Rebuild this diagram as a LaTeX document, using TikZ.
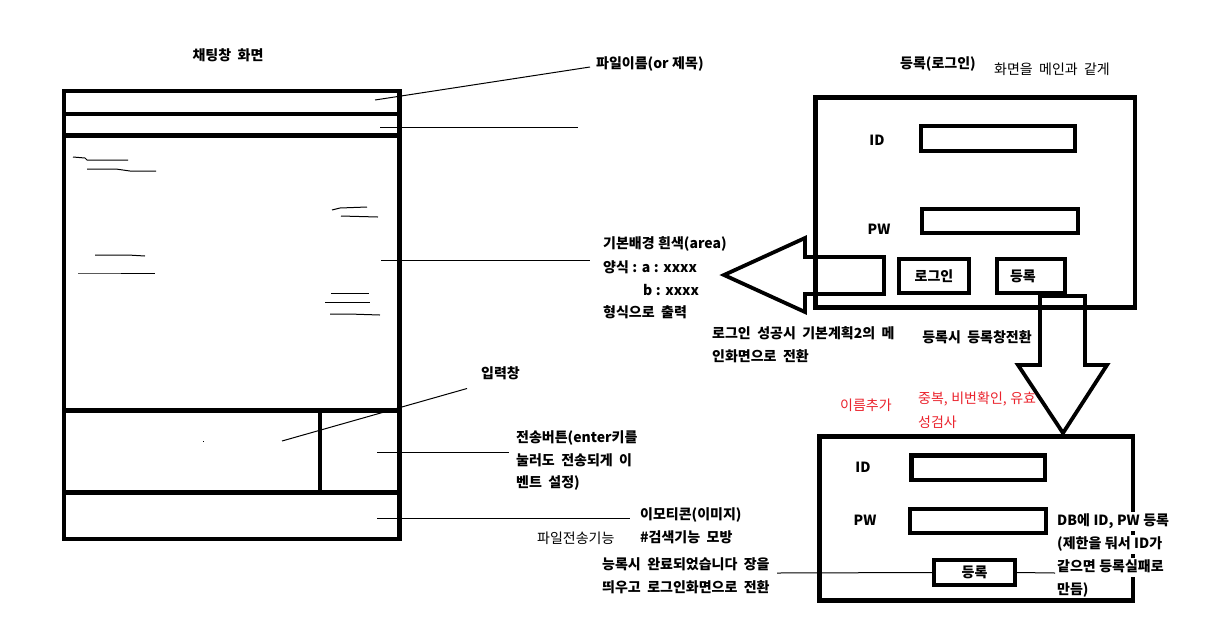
\documentclass[tikz,border=0pt]{standalone}
\usepackage{fontspec}
\setmainfont{Noto Sans CJK KR}[WordSpace=2]
\newcommand\latsp{\spaceskip=0.25em\relax}
\begin{document}
\begin{tikzpicture}[x=1pt,y=-1pt,
  frame/.style={line width=4.5pt},
  fld/.style={draw,line width=4.3pt,inner sep=0pt,font=\fontsize{14}{16}\selectfont\bfseries},
  lbl/.style={inner sep=0pt,anchor=base west,font=\fontsize{14}{16}\selectfont\bfseries},
  lblc/.style={inner sep=0pt,anchor=base,font=\fontsize{14}{16}\selectfont\bfseries},
  lblr/.style={inner sep=0pt,anchor=base west,font=\fontsize{14}{16}\selectfont},
  redlbl/.style={lblr,text=redtxt},
  dblbl/.style={lbl,fill=white,text height=13pt,text depth=6pt},
  lead/.style={line width=1pt},
  doodle/.style={line width=1pt},
  bigarrow/.style={line width=3.8pt,line join=miter}]
\definecolor{redtxt}{RGB}{235,35,45}
\useasboundingbox (0,0) rectangle (1212,622);
\fill[white] (0,0) rectangle (1212,622);

% ---------- chat window (left) ----------
\node[lblc] (chattitle) at (228,60) {채팅창 화면};
\draw[frame] (64,91) rectangle (399.5,539);
\draw[frame] (64,114)--(399.5,114) (64,135.5)--(399.5,135.5)
  (64,410.5)--(399.5,410.5) (64,492.5)--(399.5,492.5) (320,410.5)--(320,494.5);
% message doodles
\draw[doodle] (73,157)--(85,158)--(87,160)--(128,160);
\draw[doodle] (87,169)--(116,169)--(130,171)--(156,171);
\draw[doodle] (332,210)--(340,208)--(367,207);
\draw[doodle] (341,216)--(378,217);
\draw[doodle] (95,255)--(128,255)--(145,256);
\draw[doodle] (78,273)--(88,273)--(155,273);
\draw[doodle] (331,293)--(369,293);
\draw[doodle] (325,302)--(370,302);
\draw[doodle] (330,314)--(349,314)--(380,315);
\fill (202.5,440.5) rectangle (203.5,441.5);

% leaders and labels of the chat window
\node[lbl] (fname) at (596,68) {\latsp 파일이름(or 제목)};
\coordinate (l1a) at (375,100); \coordinate (l1b) at (590,67);
\draw[lead] (l1a)--(l1b);
\coordinate (l2a) at (380,127); \coordinate (l2b) at (578,127);
\draw[lead] (l2a)--(l2b);
\node[lbl] (bg1) at (603,248) {\latsp 기본배경 흰색(area)};
\node[lbl] (bg2) at (603,272) {\latsp 양식 : a : xxxx};
\node[lbl] (bg3) at (643,295) {\latsp b : xxxx};
\node[lbl] (bg4) at (603,317) {형식으로 출력};
\coordinate (l3a) at (381,260.5); \coordinate (l3b) at (590,260.5);
\draw[lead] (l3a)--(l3b);
\node[lbl] (input) at (481,378) {입력창};
\coordinate (l4a) at (282,441); \coordinate (l4b) at (467,388.5);
\draw[lead] (l4a)--(l4b);
\node[lbl] (send1) at (516,442) {전송버튼(enter키를};
\node[lbl] (send2) at (516,465) {눌러도 전송되게 이};
\node[lbl] (send3) at (516,487) {벤트 설정)};
\coordinate (l5a) at (377,452); \coordinate (l5b) at (509,452);
\draw[lead] (l5a)--(l5b);
\node[lbl] (emo) at (640,519) {이모티콘(이미지)};
\coordinate (l6a) at (377,518.5); \coordinate (l6b) at (630,518.5);
\draw[lead] (l6a)--(l6b);
\node[lblr] (filesend) at (537,543) {파일전송기능};
\node[lbl] (search) at (640,542) {\#검색기능 모방};

% ---------- login window (top right) ----------
\node[lblc] (logintitle) at (938,68) {등록(로그인)};
\node[lblr,anchor=base] (samemain) at (1052,74) {화면을 메인과 같게};
\draw[frame] (815.5,97.5) rectangle (1135,307.5);
\node[lblc] (idl) at (877,145) {ID};
\node[fld,minimum width=154pt,minimum height=25pt] (idbox) at (998,138.5) {};
\node[lblc] (pwl) at (879,234) {PW};
\node[fld,minimum width=156pt,minimum height=24pt] (pwbox) at (1000,221) {};
\node[fld,minimum width=70pt,minimum height=34pt] (loginbtn) at (934,276) {로그인};
\node[fld,minimum width=68pt,minimum height=34pt,text width=42pt,align=left] (regbtn) at (1031,276) {등록};

% left arrow (login success)
\draw[bigarrow] (884,257)--(805,257)--(805,238)--(724,275)--(805,312)--(805,294)--(884,294)--cycle;
\node[lbl] (succ1) at (712,338) {로그인 성공시 기본계획2의 메};
\node[lbl] (succ2) at (712,361) {인화면으로 전환};
\node[lblc] (regswitch) at (977,342) {등록시 등록창전환};

% down arrow (register)
\draw[bigarrow] (1040,296)--(1085,296)--(1085,365)--(1107,365)--(1063,433)--(1018,365)--(1040,365)--cycle;

% ---------- register window (bottom right) ----------
\node[redlbl] (addname) at (840,410) {이름추가};
\node[redlbl] (check1) at (918,403) {\latsp 중복, 비번확인, 유효};
\node[redlbl] (check2) at (918,427) {성검사};
\draw[frame] (819.5,436.5) rectangle (1133,600.5);
\node[lblc] (idl2) at (863,472) {ID};
\node[fld,minimum width=133.5pt,minimum height=24.5pt] (idbox2) at (978.25,467.75) {};
\node[lblc] (pwl2) at (865,525) {PW};
\node[fld,minimum width=136pt,minimum height=24pt] (pwbox2) at (978,521) {};
\node[fld,minimum width=81pt,minimum height=25pt,text width=60pt,align=center] (regbtn2) at (974.5,572.5) {등록\hspace*{12pt}};
\node[dblbl] (db1) at (1057,525) {\latsp DB에 ID, PW 등록};
\node[dblbl] (db2) at (1057,548) {\latsp (제한을 둬서 ID가};
\node[dblbl] (db3) at (1057,571) {\latsp 같으면 등록실패로};
\node[lbl] (db4) at (1057,594) {만듬)};
\node[lbl] (done1) at (602,569) {능록시 완료되었습니다 장을};
\node[lbl] (done2) at (602,592) {띄우고 로그인화면으로 전환};
\coordinate (l7a) at (777,573);
\draw[lead] (l7a)--(regbtn2.west);
\coordinate (l7b) at (1055,573);
\draw[lead] (regbtn2.east)--(l7b);
\end{tikzpicture}
\end{document}
